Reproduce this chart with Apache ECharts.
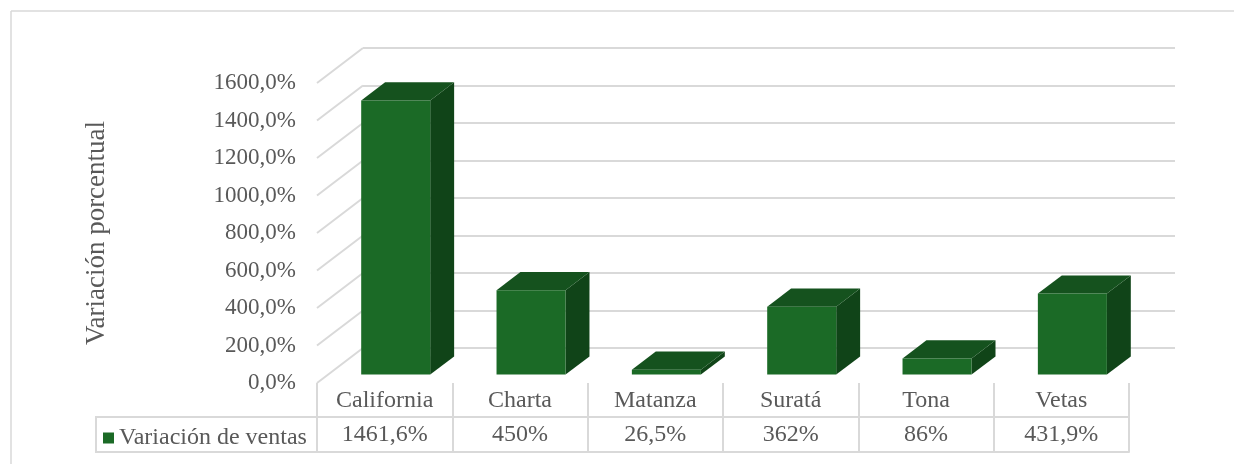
<!DOCTYPE html>
<html>
<head>
<meta charset="utf-8">
<script src="https://cdn.jsdelivr.net/npm/echarts@6/dist/echarts.min.js"></script>
<style>
  html, body { margin: 0; padding: 0; background: #fff; }
  #chart { width: 1234px; height: 464px; }
</style>
</head>
<body>
<div id="chart"></div>
<script>
// datos
const categories = ['California', 'Charta', 'Matanza', 'Suratá', 'Tona', 'Vetas']
const ventas = [1461.6, 450, 26.5, 362, 86, 431.9]
const yTicks = [0, 200, 400, 600, 800, 1000, 1200, 1400, 1600]
const serieName = 'Variación de ventas'
const yTitle = 'Variación porcentual'

// estilo
const FONT = "'Liberation Serif', serif"
const TXT = '#595959'
const GRID_C = '#d9d9d9'
const DX = 46 // profundidad del piso 3d
const DY = -35
const FRONT = 0.24 // cara frontal de la barra dentro de la profundidad
const BACK = 0.76

const fmtTick = v => v.toFixed(1).replace('.', ',') + '%'
const fmtVal = v => String(v).replace('.', ',') + '%'

const chart = echarts.init(document.getElementById('chart'))

// barras en 3d: frente, tapa y lado
function renderBar(params, api) {
  const idx = api.value(0)
  const top = api.coord([idx, api.value(1)])
  const base = api.coord([idx, 0])
  const bw = api.size([1, 0])[0] * 0.51
  const L = top[0] - bw / 2
  const R = top[0] + bw / 2
  const fx = FRONT * DX, fy = FRONT * DY
  const bx = BACK * DX, by = BACK * DY
  const Ty = top[1], By = base[1]
  return {
    type: 'group',
    children: [
      {
        type: 'polygon',
        shape: { points: [[R + fx, Ty + fy], [R + bx, Ty + by], [R + bx, By + by], [R + fx, By + fy]] },
        style: { fill: '#104418' }
      },
      {
        type: 'polygon',
        shape: { points: [[L + fx, Ty + fy], [R + fx, Ty + fy], [R + bx, Ty + by], [L + bx, Ty + by]] },
        style: { fill: '#15521e' }
      },
      {
        type: 'rect',
        shape: { x: L + fx, y: Ty + fy, width: bw, height: By - Ty },
        style: { fill: '#1b6a26' }
      }
    ]
  }
}

// lineas diagonales de la pared izquierda
function renderWall(params, api) {
  const y = api.coord([0, api.value(1)])[1]
  const x0 = params.coordSys.x
  return {
    type: 'line',
    shape: { x1: x0, y1: y, x2: x0 + DX, y2: y + DY },
    style: { stroke: GRID_C, lineWidth: 2 }
  }
}

const option = {
  animation: false,
  textStyle: { fontFamily: FONT },
  grid: [
    { left: 317, right: 105, top: 83, bottom: 81, outerBoundsMode: 'none' },
    { left: 317 + DX, right: 105 - DX, top: 83 + DY, bottom: 81 - DY, outerBoundsMode: 'none' }
  ],
  legend: {
    data: [serieName],
    left: 103,
    top: 426,
    padding: 0,
    icon: 'rect',
    itemWidth: 11,
    itemHeight: 11,
    itemGap: 5,
    textStyle: { fontSize: 24, color: TXT, fontFamily: FONT }
  },
  xAxis: [
    {
      type: 'category',
      gridIndex: 0,
      data: categories,
      axisLine: { show: false },
      axisTick: { show: true, length: 69, lineStyle: { color: GRID_C, width: 2 } },
      axisLabel: { margin: 6, fontSize: 24, color: TXT, fontFamily: FONT }
    },
    {
      type: 'category',
      gridIndex: 0,
      data: categories,
      position: 'bottom',
      offset: 34,
      axisLine: { show: true, lineStyle: { color: GRID_C, width: 2 } },
      axisTick: { show: false },
      axisLabel: {
        margin: 6,
        fontSize: 24,
        color: TXT,
        fontFamily: FONT,
        formatter: (v, i) => fmtVal(ventas[i])
      }
    },
    {
      type: 'category',
      gridIndex: 0,
      data: categories,
      position: 'bottom',
      offset: 69,
      axisLine: { show: true, lineStyle: { color: GRID_C, width: 2 } },
      axisTick: { show: false },
      axisLabel: { show: false }
    },
    {
      type: 'category',
      gridIndex: 1,
      data: categories,
      show: false
    }
  ],
  yAxis: [
    {
      type: 'value',
      gridIndex: 0,
      min: 0,
      max: 1600,
      interval: 200,
      name: yTitle,
      nameLocation: 'middle',
      nameRotate: 90,
      nameGap: 207,
      nameTextStyle: { fontSize: 27, color: TXT, fontFamily: FONT },
      axisLine: { show: false },
      axisTick: { show: false },
      splitLine: { show: false },
      axisLabel: { margin: 21, fontSize: 23, color: TXT, fontFamily: FONT, formatter: fmtTick }
    },
    {
      type: 'value',
      gridIndex: 1,
      min: 0,
      max: 1600,
      interval: 200,
      axisLine: { show: false },
      axisTick: { show: false },
      axisLabel: { show: false },
      splitLine: { show: true, lineStyle: { color: GRID_C, width: 2 } }
    }
  ],
  graphic: [
    // borde exterior
    { type: 'line', shape: { x1: 11, y1: 11, x2: 1234, y2: 11 }, style: { stroke: GRID_C, lineWidth: 1.5 }, silent: true },
    { type: 'line', shape: { x1: 11, y1: 11, x2: 11, y2: 464 }, style: { stroke: GRID_C, lineWidth: 1.5 }, silent: true },
    // celda de la leyenda en la tabla
    { type: 'rect', shape: { x: 96, y: 417, width: 221, height: 35 }, style: { fill: 'none', stroke: GRID_C, lineWidth: 2 }, silent: true }
  ],
  series: [
    {
      type: 'custom',
      name: 'pared',
      xAxisIndex: 0,
      yAxisIndex: 0,
      renderItem: renderWall,
      data: yTicks.map(v => [0, v]),
      silent: true,
      z: 1
    },
    {
      type: 'custom',
      name: serieName,
      xAxisIndex: 0,
      yAxisIndex: 0,
      itemStyle: { color: '#1b6a26' },
      renderItem: renderBar,
      data: categories.map((c, i) => [i, ventas[i]]),
      z: 3
    }
  ]
}

chart.setOption(option)
</script>
</body>
</html>
